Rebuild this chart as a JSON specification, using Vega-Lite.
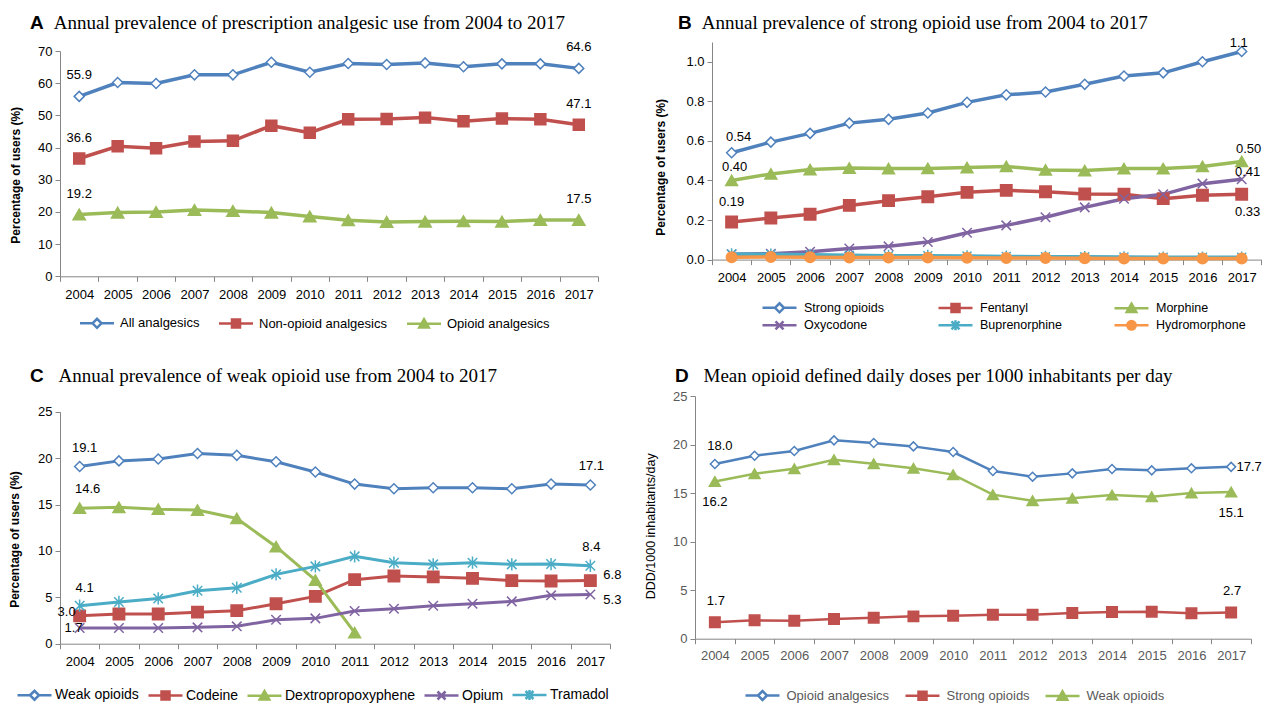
{
  "$schema": "https://vega.github.io/schema/vega-lite/v6.json",
  "background": "white",
  "padding": {"left": 8, "top": 14, "right": 0, "bottom": 0},
  "config": {
    "view": {"stroke": null},
    "font": "Liberation Sans",
    "axis": {"grid": false, "domainColor": "#868686", "tickColor": "#868686", "labelColor": "#000000", "labelFont": "Liberation Sans", "labelFontSize": 13, "tickSize": 5, "titleColor": "#000000", "titleFont": "Liberation Sans"},
    "axisX": {"labelAngle": 0, "tickBand": "extent", "labelPadding": 7},
    "axisY": {"labelPadding": 3},
    "legend": {"orient": "none", "direction": "horizontal", "padding": 0, "symbolSize": 100, "symbolStrokeWidth": 2.5, "symbolOpacity": 1, "labelFont": "Liberation Sans", "labelFontSize": 13, "labelColor": "#000000"},
    "title": {"anchor": "start", "frame": "group", "font": "Liberation Sans", "fontSize": 19, "fontWeight": "bold", "color": "#000000", "subtitleFont": "Liberation Serif", "subtitleFontSize": 19, "subtitleColor": "#000000", "subtitlePadding": -19, "baseline": "top"},
    "text": {"font": "Liberation Sans", "fontSize": 13, "color": "#000000"}
  },
  "datasets": {
    "A": [
      {"year":2004,"series":"All analgesics","value":55.9},{"year":2005,"series":"All analgesics","value":60.2},{"year":2006,"series":"All analgesics","value":59.9},{"year":2007,"series":"All analgesics","value":62.6},{"year":2008,"series":"All analgesics","value":62.6},{"year":2009,"series":"All analgesics","value":66.5},{"year":2010,"series":"All analgesics","value":63.4},{"year":2011,"series":"All analgesics","value":66.1},{"year":2012,"series":"All analgesics","value":65.8},{"year":2013,"series":"All analgesics","value":66.3},{"year":2014,"series":"All analgesics","value":65.1},{"year":2015,"series":"All analgesics","value":66.0},{"year":2016,"series":"All analgesics","value":66.0},{"year":2017,"series":"All analgesics","value":64.6},
      {"year":2004,"series":"Non-opioid analgesics","value":36.6},{"year":2005,"series":"Non-opioid analgesics","value":40.4},{"year":2006,"series":"Non-opioid analgesics","value":39.8},{"year":2007,"series":"Non-opioid analgesics","value":41.9},{"year":2008,"series":"Non-opioid analgesics","value":42.1},{"year":2009,"series":"Non-opioid analgesics","value":46.8},{"year":2010,"series":"Non-opioid analgesics","value":44.6},{"year":2011,"series":"Non-opioid analgesics","value":48.8},{"year":2012,"series":"Non-opioid analgesics","value":48.9},{"year":2013,"series":"Non-opioid analgesics","value":49.3},{"year":2014,"series":"Non-opioid analgesics","value":48.2},{"year":2015,"series":"Non-opioid analgesics","value":49.0},{"year":2016,"series":"Non-opioid analgesics","value":48.8},{"year":2017,"series":"Non-opioid analgesics","value":47.1},
      {"year":2004,"series":"Opioid analgesics","value":19.2},{"year":2005,"series":"Opioid analgesics","value":19.8},{"year":2006,"series":"Opioid analgesics","value":20.0},{"year":2007,"series":"Opioid analgesics","value":20.6},{"year":2008,"series":"Opioid analgesics","value":20.3},{"year":2009,"series":"Opioid analgesics","value":19.8},{"year":2010,"series":"Opioid analgesics","value":18.6},{"year":2011,"series":"Opioid analgesics","value":17.4},{"year":2012,"series":"Opioid analgesics","value":16.9},{"year":2013,"series":"Opioid analgesics","value":17.0},{"year":2014,"series":"Opioid analgesics","value":17.1},{"year":2015,"series":"Opioid analgesics","value":17.0},{"year":2016,"series":"Opioid analgesics","value":17.5},{"year":2017,"series":"Opioid analgesics","value":17.5}
    ],
    "B": [
      {"year":2004,"series":"Strong opioids","value":0.54},{"year":2005,"series":"Strong opioids","value":0.594},{"year":2006,"series":"Strong opioids","value":0.638},{"year":2007,"series":"Strong opioids","value":0.69},{"year":2008,"series":"Strong opioids","value":0.709},{"year":2009,"series":"Strong opioids","value":0.741},{"year":2010,"series":"Strong opioids","value":0.795},{"year":2011,"series":"Strong opioids","value":0.833},{"year":2012,"series":"Strong opioids","value":0.847},{"year":2013,"series":"Strong opioids","value":0.886},{"year":2014,"series":"Strong opioids","value":0.928},{"year":2015,"series":"Strong opioids","value":0.944},{"year":2016,"series":"Strong opioids","value":1.0},{"year":2017,"series":"Strong opioids","value":1.052},
      {"year":2004,"series":"Fentanyl","value":0.19},{"year":2005,"series":"Fentanyl","value":0.21},{"year":2006,"series":"Fentanyl","value":0.229},{"year":2007,"series":"Fentanyl","value":0.274},{"year":2008,"series":"Fentanyl","value":0.298},{"year":2009,"series":"Fentanyl","value":0.318},{"year":2010,"series":"Fentanyl","value":0.34},{"year":2011,"series":"Fentanyl","value":0.35},{"year":2012,"series":"Fentanyl","value":0.343},{"year":2013,"series":"Fentanyl","value":0.332},{"year":2014,"series":"Fentanyl","value":0.33},{"year":2015,"series":"Fentanyl","value":0.308},{"year":2016,"series":"Fentanyl","value":0.325},{"year":2017,"series":"Fentanyl","value":0.33},
      {"year":2004,"series":"Morphine","value":0.40},{"year":2005,"series":"Morphine","value":0.433},{"year":2006,"series":"Morphine","value":0.455},{"year":2007,"series":"Morphine","value":0.463},{"year":2008,"series":"Morphine","value":0.46},{"year":2009,"series":"Morphine","value":0.461},{"year":2010,"series":"Morphine","value":0.465},{"year":2011,"series":"Morphine","value":0.471},{"year":2012,"series":"Morphine","value":0.453},{"year":2013,"series":"Morphine","value":0.45},{"year":2014,"series":"Morphine","value":0.46},{"year":2015,"series":"Morphine","value":0.46},{"year":2016,"series":"Morphine","value":0.471},{"year":2017,"series":"Morphine","value":0.496},
      {"year":2004,"series":"Oxycodone","value":0.027},{"year":2005,"series":"Oxycodone","value":0.03},{"year":2006,"series":"Oxycodone","value":0.04},{"year":2007,"series":"Oxycodone","value":0.056},{"year":2008,"series":"Oxycodone","value":0.067},{"year":2009,"series":"Oxycodone","value":0.089},{"year":2010,"series":"Oxycodone","value":0.136},{"year":2011,"series":"Oxycodone","value":0.173},{"year":2012,"series":"Oxycodone","value":0.214},{"year":2013,"series":"Oxycodone","value":0.264},{"year":2014,"series":"Oxycodone","value":0.308},{"year":2015,"series":"Oxycodone","value":0.33},{"year":2016,"series":"Oxycodone","value":0.384},{"year":2017,"series":"Oxycodone","value":0.406},
      {"year":2004,"series":"Buprenorphine","value":0.028},{"year":2005,"series":"Buprenorphine","value":0.027},{"year":2006,"series":"Buprenorphine","value":0.025},{"year":2007,"series":"Buprenorphine","value":0.022},{"year":2008,"series":"Buprenorphine","value":0.02},{"year":2009,"series":"Buprenorphine","value":0.02},{"year":2010,"series":"Buprenorphine","value":0.018},{"year":2011,"series":"Buprenorphine","value":0.016},{"year":2012,"series":"Buprenorphine","value":0.015},{"year":2013,"series":"Buprenorphine","value":0.014},{"year":2014,"series":"Buprenorphine","value":0.013},{"year":2015,"series":"Buprenorphine","value":0.012},{"year":2016,"series":"Buprenorphine","value":0.012},{"year":2017,"series":"Buprenorphine","value":0.012},
      {"year":2004,"series":"Hydromorphone","value":0.012},{"year":2005,"series":"Hydromorphone","value":0.013},{"year":2006,"series":"Hydromorphone","value":0.012},{"year":2007,"series":"Hydromorphone","value":0.011},{"year":2008,"series":"Hydromorphone","value":0.01},{"year":2009,"series":"Hydromorphone","value":0.01},{"year":2010,"series":"Hydromorphone","value":0.009},{"year":2011,"series":"Hydromorphone","value":0.008},{"year":2012,"series":"Hydromorphone","value":0.008},{"year":2013,"series":"Hydromorphone","value":0.007},{"year":2014,"series":"Hydromorphone","value":0.006},{"year":2015,"series":"Hydromorphone","value":0.006},{"year":2016,"series":"Hydromorphone","value":0.005},{"year":2017,"series":"Hydromorphone","value":0.005}
    ],
    "C": [
      {"year":2004,"series":"Weak opioids","value":19.1},{"year":2005,"series":"Weak opioids","value":19.7},{"year":2006,"series":"Weak opioids","value":19.9},{"year":2007,"series":"Weak opioids","value":20.5},{"year":2008,"series":"Weak opioids","value":20.3},{"year":2009,"series":"Weak opioids","value":19.6},{"year":2010,"series":"Weak opioids","value":18.5},{"year":2011,"series":"Weak opioids","value":17.2},{"year":2012,"series":"Weak opioids","value":16.7},{"year":2013,"series":"Weak opioids","value":16.8},{"year":2014,"series":"Weak opioids","value":16.8},{"year":2015,"series":"Weak opioids","value":16.7},{"year":2016,"series":"Weak opioids","value":17.2},{"year":2017,"series":"Weak opioids","value":17.1},
      {"year":2004,"series":"Codeine","value":3.0},{"year":2005,"series":"Codeine","value":3.2},{"year":2006,"series":"Codeine","value":3.2},{"year":2007,"series":"Codeine","value":3.4},{"year":2008,"series":"Codeine","value":3.56},{"year":2009,"series":"Codeine","value":4.3},{"year":2010,"series":"Codeine","value":5.1},{"year":2011,"series":"Codeine","value":6.9},{"year":2012,"series":"Codeine","value":7.3},{"year":2013,"series":"Codeine","value":7.2},{"year":2014,"series":"Codeine","value":7.04},{"year":2015,"series":"Codeine","value":6.8},{"year":2016,"series":"Codeine","value":6.75},{"year":2017,"series":"Codeine","value":6.8},
      {"year":2004,"series":"Dextropropoxyphene","value":14.6},{"year":2005,"series":"Dextropropoxyphene","value":14.7},{"year":2006,"series":"Dextropropoxyphene","value":14.5},{"year":2007,"series":"Dextropropoxyphene","value":14.4},{"year":2008,"series":"Dextropropoxyphene","value":13.5},{"year":2009,"series":"Dextropropoxyphene","value":10.45},{"year":2010,"series":"Dextropropoxyphene","value":6.86},{"year":2011,"series":"Dextropropoxyphene","value":1.19},
      {"year":2004,"series":"Opium","value":1.7},{"year":2005,"series":"Opium","value":1.7},{"year":2006,"series":"Opium","value":1.7},{"year":2007,"series":"Opium","value":1.76},{"year":2008,"series":"Opium","value":1.87},{"year":2009,"series":"Opium","value":2.59},{"year":2010,"series":"Opium","value":2.73},{"year":2011,"series":"Opium","value":3.52},{"year":2012,"series":"Opium","value":3.77},{"year":2013,"series":"Opium","value":4.09},{"year":2014,"series":"Opium","value":4.31},{"year":2015,"series":"Opium","value":4.56},{"year":2016,"series":"Opium","value":5.21},{"year":2017,"series":"Opium","value":5.3},
      {"year":2004,"series":"Tramadol","value":4.1},{"year":2005,"series":"Tramadol","value":4.49},{"year":2006,"series":"Tramadol","value":4.88},{"year":2007,"series":"Tramadol","value":5.71},{"year":2008,"series":"Tramadol","value":6.03},{"year":2009,"series":"Tramadol","value":7.47},{"year":2010,"series":"Tramadol","value":8.33},{"year":2011,"series":"Tramadol","value":9.41},{"year":2012,"series":"Tramadol","value":8.73},{"year":2013,"series":"Tramadol","value":8.55},{"year":2014,"series":"Tramadol","value":8.73},{"year":2015,"series":"Tramadol","value":8.55},{"year":2016,"series":"Tramadol","value":8.58},{"year":2017,"series":"Tramadol","value":8.4}
    ],
    "D": [
      {"year":2004,"series":"Opioid analgesics","value":18.0},{"year":2005,"series":"Opioid analgesics","value":18.85},{"year":2006,"series":"Opioid analgesics","value":19.33},{"year":2007,"series":"Opioid analgesics","value":20.43},{"year":2008,"series":"Opioid analgesics","value":20.16},{"year":2009,"series":"Opioid analgesics","value":19.81},{"year":2010,"series":"Opioid analgesics","value":19.23},{"year":2011,"series":"Opioid analgesics","value":17.27},{"year":2012,"series":"Opioid analgesics","value":16.69},{"year":2013,"series":"Opioid analgesics","value":17.03},{"year":2014,"series":"Opioid analgesics","value":17.48},{"year":2015,"series":"Opioid analgesics","value":17.34},{"year":2016,"series":"Opioid analgesics","value":17.55},{"year":2017,"series":"Opioid analgesics","value":17.7},
      {"year":2004,"series":"Strong opioids","value":1.7},{"year":2005,"series":"Strong opioids","value":1.89},{"year":2006,"series":"Strong opioids","value":1.85},{"year":2007,"series":"Strong opioids","value":2.03},{"year":2008,"series":"Strong opioids","value":2.16},{"year":2009,"series":"Strong opioids","value":2.3},{"year":2010,"series":"Strong opioids","value":2.37},{"year":2011,"series":"Strong opioids","value":2.47},{"year":2012,"series":"Strong opioids","value":2.47},{"year":2013,"series":"Strong opioids","value":2.64},{"year":2014,"series":"Strong opioids","value":2.75},{"year":2015,"series":"Strong opioids","value":2.78},{"year":2016,"series":"Strong opioids","value":2.61},{"year":2017,"series":"Strong opioids","value":2.7},
      {"year":2004,"series":"Weak opioids","value":16.2},{"year":2005,"series":"Weak opioids","value":17.0},{"year":2006,"series":"Weak opioids","value":17.5},{"year":2007,"series":"Weak opioids","value":18.44},{"year":2008,"series":"Weak opioids","value":18.03},{"year":2009,"series":"Weak opioids","value":17.55},{"year":2010,"series":"Weak opioids","value":16.9},{"year":2011,"series":"Weak opioids","value":14.84},{"year":2012,"series":"Weak opioids","value":14.22},{"year":2013,"series":"Weak opioids","value":14.46},{"year":2014,"series":"Weak opioids","value":14.8},{"year":2015,"series":"Weak opioids","value":14.63},{"year":2016,"series":"Weak opioids","value":15.0},{"year":2017,"series":"Weak opioids","value":15.1}
    ]
  },
  "spacing": 31,
  "resolve": {"scale": {"stroke": "independent", "fill": "independent", "shape": "independent"}, "legend": {"stroke": "independent", "fill": "independent", "shape": "independent"}},
  "vconcat": [
    {
      "spacing": 54,
      "resolve": {"scale": {"stroke": "independent", "fill": "independent", "shape": "independent"}, "legend": {"stroke": "independent", "fill": "independent", "shape": "independent"}},
      "hconcat": [
        {
          "width": 538, "height": 234.3,
          "data": {"name": "A"},
          "title": {"text": "A", "subtitle": "\u200b\u00a0\u00a0\u00a0\u00a0\u00a0Annual prevalence of prescription analgesic use from 2004 to 2017", "dx": -30, "offset": 8},
          "encoding": {
            "x": {"field": "year", "type": "ordinal", "bandPosition": 0.5, "title": null, "scale": {"type": "band", "paddingInner": 0, "paddingOuter": 0}},
            "y": {"field": "value", "type": "quantitative", "scale": {"domain": [0, 70], "range": [234.3, 9], "nice": false}, "axis": {"values": [0, 10, 20, 30, 40, 50, 60, 70], "title": "Percentage of users (%)", "titleX": -38, "titleY": 132.8, "titleFontWeight": "bold", "titleFontSize": 12}}
          },
          "layer": [
            {"mark": {"type": "line", "strokeWidth": 3.5},
             "encoding": {
               "detail": {"field": "series", "type": "nominal"},
               "stroke": {"condition": [{"test": "datum.series === 'Non-opioid analgesics'", "value": "#C0504D"}, {"test": "datum.series === 'Opioid analgesics'", "value": "#9BBB59"}], "value": "#4F81BD"}
             }},
            {"mark": {"type": "point", "filled": true, "opacity": 1, "strokeWidth": 1.5},
             "encoding": {
               "stroke": {"condition": [{"test": "datum.series === 'Non-opioid analgesics'", "value": "#C0504D"}, {"test": "datum.series === 'Opioid analgesics'", "value": "#9BBB59"}], "value": "#4F81BD"},
               "fill": {"condition": [{"test": "datum.series === 'Non-opioid analgesics'", "value": "#C0504D"}, {"test": "datum.series === 'Opioid analgesics'", "value": "#9BBB59"}], "value": "#FFFFFF"},
               "shape": {"condition": [{"test": "datum.series === 'Non-opioid analgesics'", "value": "square"}, {"test": "datum.series === 'Opioid analgesics'", "value": "triangle-up"}], "value": "diamond"},
               "size": {"condition": [{"test": "datum.series === 'Non-opioid analgesics'", "value": 120}, {"test": "datum.series === 'Opioid analgesics'", "value": 150}], "value": 100}
             }},
            {"transform": [{"filter": "datum.year > 3000"}],
             "mark": {"type": "point", "filled": true, "opacity": 1, "strokeWidth": 2.5},
             "encoding": {
               "stroke": {"field": "series", "type": "nominal", "scale": {"domain": ["All analgesics", "Non-opioid analgesics", "Opioid analgesics"], "range": ["#4F81BD", "#C0504D", "#9BBB59"]}, "legend": {"title": null, "legendX": 30.5, "legendY": 274.8, "labelOffset": 16.5, "columnPadding": 14}},
               "fill": {"field": "series", "type": "nominal", "scale": {"domain": ["All analgesics", "Non-opioid analgesics", "Opioid analgesics"], "range": ["#FFFFFF", "#C0504D", "#9BBB59"]}, "legend": {"title": null, "legendX": 30.5, "legendY": 274.8, "labelOffset": 16.5, "columnPadding": 14}},
               "shape": {"field": "series", "type": "nominal", "scale": {"domain": ["All analgesics", "Non-opioid analgesics", "Opioid analgesics"], "range": ["M-3.4,0L-0.9,0M0.9,0L3.4,0M-0.9,0L0,-0.9L0.9,0L0,0.9Z", "M-3.4,0L3.4,0M-0.8,-0.8L0.8,-0.8L0.8,0.8L-0.8,0.8Z", "M-3.4,0L3.4,0M0,-0.9L0.95,0.75L-0.95,0.75Z"]}, "legend": {"title": null, "legendX": 30.5, "legendY": 274.8, "labelOffset": 16.5, "columnPadding": 14}}
             }},
            {"transform": [{"filter": "datum.year == 2004 || datum.year == 2017"}], "mark": {"type": "text", "dy": -21}, "encoding": {"text": {"field": "value", "type": "quantitative", "format": ".1f"}}}
          ]
        },
        {
          "width": 549.3, "height": 217.6,
          "data": {"name": "B"},
          "title": {"text": "B", "subtitle": "\u200b\u00a0\u00a0\u00a0\u00a0\u00a0Annual prevalence of strong opioid use from 2004 to 2017", "dx": -34, "offset": 4},
          "encoding": {
            "x": {"field": "year", "type": "ordinal", "bandPosition": 0.5, "title": null, "scale": {"type": "band", "paddingInner": 0, "paddingOuter": 0}},
            "y": {"field": "value", "type": "quantitative", "scale": {"domain": [0, 1.1], "nice": false}, "axis": {"values": [0, 0.2, 0.4, 0.6, 0.8, 1.0], "format": ".1f", "title": "Percentage of users (%)", "titleX": -45, "titleY": 124.8, "titleFontWeight": "bold", "titleFontSize": 12}}
          },
          "layer": [
            {"mark": {"type": "line", "strokeWidth": 3.5},
             "encoding": {
               "detail": {"field": "series", "type": "nominal"},
               "stroke": {"condition": [{"test": "datum.series === 'Fentanyl'", "value": "#C0504D"}, {"test": "datum.series === 'Morphine'", "value": "#9BBB59"}, {"test": "datum.series === 'Oxycodone'", "value": "#8064A2"}, {"test": "datum.series === 'Buprenorphine'", "value": "#4BACC6"}, {"test": "datum.series === 'Hydromorphone'", "value": "#F79646"}], "value": "#4F81BD"}
             }},
            {"mark": {"type": "point", "filled": true, "opacity": 1, "strokeWidth": 1.5},
             "encoding": {
               "stroke": {"condition": [{"test": "datum.series === 'Fentanyl'", "value": "#C0504D"}, {"test": "datum.series === 'Morphine'", "value": "#9BBB59"}, {"test": "datum.series === 'Oxycodone'", "value": "#8064A2"}, {"test": "datum.series === 'Buprenorphine'", "value": "#4BACC6"}, {"test": "datum.series === 'Hydromorphone'", "value": "#F79646"}], "value": "#4F81BD"},
               "fill": {"condition": [{"test": "datum.series === 'Fentanyl'", "value": "#C0504D"}, {"test": "datum.series === 'Morphine'", "value": "#9BBB59"}, {"test": "datum.series === 'Oxycodone'", "value": "transparent"}, {"test": "datum.series === 'Buprenorphine'", "value": "transparent"}, {"test": "datum.series === 'Hydromorphone'", "value": "#F79646"}], "value": "#FFFFFF"},
               "shape": {"condition": [{"test": "datum.series === 'Fentanyl'", "value": "square"}, {"test": "datum.series === 'Morphine'", "value": "triangle-up"}, {"test": "datum.series === 'Oxycodone'", "value": "M-1,-1L1,1M-1,1L1,-1"}, {"test": "datum.series === 'Buprenorphine'", "value": "M-1,-1L1,1M-1,1L1,-1M0,-1.3L0,1.3"}, {"test": "datum.series === 'Hydromorphone'", "value": "circle"}], "value": "diamond"},
               "size": {"condition": [{"test": "datum.series === 'Fentanyl'", "value": 130}, {"test": "datum.series === 'Morphine'", "value": 140}, {"test": "datum.series === 'Oxycodone'", "value": 90}, {"test": "datum.series === 'Buprenorphine'", "value": 80}, {"test": "datum.series === 'Hydromorphone'", "value": 110}], "value": 100}
             }},
            {"transform": [{"filter": "datum.year > 3000"}],
             "mark": {"type": "point", "filled": true, "opacity": 1, "strokeWidth": 2.5},
             "encoding": {
               "stroke": {"field": "series", "type": "nominal", "scale": {"domain": ["Strong opioids", "Fentanyl", "Morphine", "Oxycodone", "Buprenorphine", "Hydromorphone"], "range": ["#4F81BD", "#C0504D", "#9BBB59", "#8064A2", "#4BACC6", "#F79646"]}, "legend": {"title": null, "legendX": 61, "legendY": 258.8, "columns": 3, "gridAlign": "all", "labelOffset": 18, "columnPadding": 39, "rowPadding": -3, "labelFontSize": 12.5}},
               "fill": {"field": "series", "type": "nominal", "scale": {"domain": ["Strong opioids", "Fentanyl", "Morphine", "Oxycodone", "Buprenorphine", "Hydromorphone"], "range": ["#FFFFFF", "#C0504D", "#9BBB59", "transparent", "transparent", "#F79646"]}, "legend": {"title": null, "legendX": 61, "legendY": 258.8, "columns": 3, "gridAlign": "all", "labelOffset": 18, "columnPadding": 39, "rowPadding": -3, "labelFontSize": 12.5}},
               "shape": {"field": "series", "type": "nominal", "scale": {"domain": ["Strong opioids", "Fentanyl", "Morphine", "Oxycodone", "Buprenorphine", "Hydromorphone"], "range": ["M-3.4,0L-0.9,0M0.9,0L3.4,0M-0.9,0L0,-0.9L0.9,0L0,0.9Z", "M-3.4,0L3.4,0M-0.8,-0.8L0.8,-0.8L0.8,0.8L-0.8,0.8Z", "M-3.4,0L3.4,0M0,-0.9L0.95,0.75L-0.95,0.75Z", "M-3.4,0L3.4,0M-0.8,-0.8L0.8,0.8M-0.8,0.8L0.8,-0.8", "M-3.4,0L3.4,0M-0.8,-0.8L0.8,0.8M-0.8,0.8L0.8,-0.8M0,-1L0,1", "M-3.4,0L3.4,0M-0.85,0A0.85,0.85,0,1,0,0.85,0A0.85,0.85,0,1,0,-0.85,0Z"]}, "legend": {"title": null, "legendX": 61, "legendY": 258.8, "columns": 3, "gridAlign": "all", "labelOffset": 18, "columnPadding": 39, "rowPadding": -3, "labelFontSize": 12.5}}
             }},
            {"encoding": {"text": {"field": "value", "type": "quantitative", "format": ".2f"}},
             "layer": [
               {"transform": [{"filter": "datum.year == 2004 && datum.series == 'Strong opioids'"}], "mark": {"type": "text", "dx": 7, "dy": -16}},
               {"transform": [{"filter": "datum.year == 2004 && datum.series == 'Morphine'"}], "mark": {"type": "text", "dx": 3, "dy": -13}},
               {"transform": [{"filter": "datum.year == 2004 && datum.series == 'Fentanyl'"}], "mark": {"type": "text", "dx": 0, "dy": -20}},
               {"transform": [{"filter": "datum.year == 2017 && datum.series == 'Strong opioids'"}], "mark": {"type": "text", "dx": -3, "dy": -8}, "encoding": {"text": {"field": "value", "type": "quantitative", "format": ".1f"}}},
               {"transform": [{"filter": "datum.year == 2017 && datum.series == 'Morphine'"}], "mark": {"type": "text", "dx": 7, "dy": -12}},
               {"transform": [{"filter": "datum.year == 2017 && datum.series == 'Oxycodone'"}], "mark": {"type": "text", "dx": 6, "dy": -7}},
               {"transform": [{"filter": "datum.year == 2017 && datum.series == 'Fentanyl'"}], "mark": {"type": "text", "dx": 6, "dy": 18}}
             ]}
          ]
        }
      ]
    },
    {
      "spacing": 22,
      "resolve": {"scale": {"stroke": "independent", "fill": "independent", "shape": "independent"}, "legend": {"stroke": "independent", "fill": "independent", "shape": "independent"}},
      "hconcat": [
        {
          "width": 550, "height": 247.7,
          "data": {"name": "C"},
          "title": {"text": "C", "subtitle": "\u200b\u00a0\u00a0\u00a0\u00a0\u00a0\u00a0Annual prevalence of weak opioid use from 2004 to 2017", "dx": -30, "offset": 10},
          "encoding": {
            "x": {"field": "year", "type": "ordinal", "bandPosition": 0.5, "title": null, "scale": {"type": "band", "paddingInner": 0, "paddingOuter": 0}},
            "y": {"field": "value", "type": "quantitative", "scale": {"domain": [0, 25], "range": [247.7, 15.7], "nice": false}, "axis": {"values": [0, 5, 10, 15, 20, 25], "title": "Percentage of users (%)", "titleX": -39, "titleY": 143, "titleFontWeight": "bold", "titleFontSize": 12}}
          },
          "layer": [
            {"mark": {"type": "line", "strokeWidth": 3},
             "encoding": {
               "detail": {"field": "series", "type": "nominal"},
               "stroke": {"condition": [{"test": "datum.series === 'Codeine'", "value": "#C0504D"}, {"test": "datum.series === 'Dextropropoxyphene'", "value": "#9BBB59"}, {"test": "datum.series === 'Opium'", "value": "#8064A2"}, {"test": "datum.series === 'Tramadol'", "value": "#4BACC6"}], "value": "#4F81BD"}
             }},
            {"mark": {"type": "point", "filled": true, "opacity": 1, "strokeWidth": 1.5},
             "encoding": {
               "stroke": {"condition": [{"test": "datum.series === 'Codeine'", "value": "#C0504D"}, {"test": "datum.series === 'Dextropropoxyphene'", "value": "#9BBB59"}, {"test": "datum.series === 'Opium'", "value": "#8064A2"}, {"test": "datum.series === 'Tramadol'", "value": "#4BACC6"}], "value": "#4F81BD"},
               "fill": {"condition": [{"test": "datum.series === 'Codeine'", "value": "#C0504D"}, {"test": "datum.series === 'Dextropropoxyphene'", "value": "#9BBB59"}, {"test": "datum.series === 'Opium'", "value": "transparent"}, {"test": "datum.series === 'Tramadol'", "value": "transparent"}], "value": "#FFFFFF"},
               "shape": {"condition": [{"test": "datum.series === 'Codeine'", "value": "square"}, {"test": "datum.series === 'Dextropropoxyphene'", "value": "triangle-up"}, {"test": "datum.series === 'Opium'", "value": "M-1,-1L1,1M-1,1L1,-1"}, {"test": "datum.series === 'Tramadol'", "value": "M-1,-1L1,1M-1,1L1,-1M0,-1.3L0,1.3"}], "value": "diamond"},
               "size": {"condition": [{"test": "datum.series === 'Codeine'", "value": 130}, {"test": "datum.series === 'Dextropropoxyphene'", "value": 140}, {"test": "datum.series === 'Opium'", "value": 90}, {"test": "datum.series === 'Tramadol'", "value": 90}], "value": 100}
             }},
            {"transform": [{"filter": "datum.year > 3000"}],
             "mark": {"type": "point", "filled": true, "opacity": 1, "strokeWidth": 2.5},
             "encoding": {
               "stroke": {"field": "series", "type": "nominal", "scale": {"domain": ["Weak opioids", "Codeine", "Dextropropoxyphene", "Opium", "Tramadol"], "range": ["#4F81BD", "#C0504D", "#9BBB59", "#8064A2", "#4BACC6"]}, "legend": {"title": null, "legendX": -32.5, "legendY": 292, "labelOffset": 13.5, "columnPadding": 4, "labelFontSize": 14}},
               "fill": {"field": "series", "type": "nominal", "scale": {"domain": ["Weak opioids", "Codeine", "Dextropropoxyphene", "Opium", "Tramadol"], "range": ["#FFFFFF", "#C0504D", "#9BBB59", "transparent", "transparent"]}, "legend": {"title": null, "legendX": -32.5, "legendY": 292, "labelOffset": 13.5, "columnPadding": 4, "labelFontSize": 14}},
               "shape": {"field": "series", "type": "nominal", "scale": {"domain": ["Weak opioids", "Codeine", "Dextropropoxyphene", "Opium", "Tramadol"], "range": ["M-3.4,0L-0.9,0M0.9,0L3.4,0M-0.9,0L0,-0.9L0.9,0L0,0.9Z", "M-3.4,0L3.4,0M-0.8,-0.8L0.8,-0.8L0.8,0.8L-0.8,0.8Z", "M-3.4,0L3.4,0M0,-0.9L0.95,0.75L-0.95,0.75Z", "M-3.4,0L3.4,0M-0.8,-0.8L0.8,0.8M-0.8,0.8L0.8,-0.8", "M-3.4,0L3.4,0M-0.8,-0.8L0.8,0.8M-0.8,0.8L0.8,-0.8M0,-1L0,1"]}, "legend": {"title": null, "legendX": -32.5, "legendY": 292, "labelOffset": 13.5, "columnPadding": 4, "labelFontSize": 14}}
             }},
            {"encoding": {"text": {"field": "value", "type": "quantitative", "format": ".1f"}},
             "layer": [
               {"transform": [{"filter": "datum.year == 2004 && (datum.series == 'Weak opioids' || datum.series == 'Tramadol')"}], "mark": {"type": "text", "dx": 5, "dy": -18}},
               {"transform": [{"filter": "datum.year == 2004 && datum.series == 'Dextropropoxyphene'"}], "mark": {"type": "text", "dx": 8, "dy": -19}},
               {"transform": [{"filter": "datum.year == 2004 && datum.series == 'Codeine'"}], "mark": {"type": "text", "dx": -13, "dy": -4}},
               {"transform": [{"filter": "datum.year == 2004 && datum.series == 'Opium'"}], "mark": {"type": "text", "dx": -6, "dy": 0}},
               {"transform": [{"filter": "datum.year == 2017 && (datum.series == 'Weak opioids' || datum.series == 'Tramadol')"}], "mark": {"type": "text", "dx": 1, "dy": -19}},
               {"transform": [{"filter": "datum.year == 2017 && datum.series == 'Codeine'"}], "mark": {"type": "text", "dx": 22, "dy": -6}},
               {"transform": [{"filter": "datum.year == 2017 && datum.series == 'Opium'"}], "mark": {"type": "text", "dx": 22, "dy": 5}}
             ]}
          ]
        },
        {
          "width": 556, "height": 242.7,
          "data": {"name": "D"},
          "title": {"text": "D", "subtitle": "\u200b\u00a0\u00a0\u00a0\u00a0\u00a0\u00a0Mean opioid defined daily doses per 1000 inhabitants per day", "dx": -20, "offset": 4},
          "encoding": {
            "x": {"field": "year", "type": "ordinal", "bandPosition": 0.5, "title": null, "scale": {"type": "band", "paddingInner": 0, "paddingOuter": 0}, "axis": {"labelColor": "#595959", "labelPadding": 6}},
            "y": {"field": "value", "type": "quantitative", "scale": {"domain": [0, 25], "nice": false}, "axis": {"values": [0, 5, 10, 15, 20, 25], "labelColor": "#595959", "title": "DDD/1000 inhabitants/day", "titleX": -38, "titleY": 129.8, "titleFontWeight": "normal", "titleFontSize": 12.5}}
          },
          "layer": [
            {"mark": {"type": "line", "strokeWidth": 2.5},
             "encoding": {
               "detail": {"field": "series", "type": "nominal"},
               "stroke": {"condition": [{"test": "datum.series === 'Strong opioids'", "value": "#C0504D"}, {"test": "datum.series === 'Weak opioids'", "value": "#9BBB59"}], "value": "#4F81BD"}
             }},
            {"mark": {"type": "point", "filled": true, "opacity": 1, "strokeWidth": 1.5},
             "encoding": {
               "stroke": {"condition": [{"test": "datum.series === 'Strong opioids'", "value": "#C0504D"}, {"test": "datum.series === 'Weak opioids'", "value": "#9BBB59"}], "value": "#4F81BD"},
               "fill": {"condition": [{"test": "datum.series === 'Strong opioids'", "value": "#C0504D"}, {"test": "datum.series === 'Weak opioids'", "value": "#9BBB59"}], "value": "#FFFFFF"},
               "shape": {"condition": [{"test": "datum.series === 'Strong opioids'", "value": "square"}, {"test": "datum.series === 'Weak opioids'", "value": "triangle-up"}], "value": "diamond"},
               "size": {"condition": [{"test": "datum.series === 'Strong opioids'", "value": 110}, {"test": "datum.series === 'Weak opioids'", "value": 120}], "value": 80}
             }},
            {"transform": [{"filter": "datum.year > 3000"}],
             "mark": {"type": "point", "filled": true, "opacity": 1, "strokeWidth": 2.5},
             "encoding": {
               "stroke": {"field": "series", "type": "nominal", "scale": {"domain": ["Opioid analgesics", "Strong opioids", "Weak opioids"], "range": ["#4F81BD", "#C0504D", "#9BBB59"]}, "legend": {"title": null, "legendX": 61, "legendY": 293, "labelOffset": 17.5, "columnPadding": 10, "labelColor": "#595959"}},
               "fill": {"field": "series", "type": "nominal", "scale": {"domain": ["Opioid analgesics", "Strong opioids", "Weak opioids"], "range": ["#FFFFFF", "#C0504D", "#9BBB59"]}, "legend": {"title": null, "legendX": 61, "legendY": 293, "labelOffset": 17.5, "columnPadding": 10, "labelColor": "#595959"}},
               "shape": {"field": "series", "type": "nominal", "scale": {"domain": ["Opioid analgesics", "Strong opioids", "Weak opioids"], "range": ["M-3.4,0L-0.9,0M0.9,0L3.4,0M-0.9,0L0,-0.9L0.9,0L0,0.9Z", "M-3.4,0L3.4,0M-0.8,-0.8L0.8,-0.8L0.8,0.8L-0.8,0.8Z", "M-3.4,0L3.4,0M0,-0.9L0.95,0.75L-0.95,0.75Z"]}, "legend": {"title": null, "legendX": 61, "legendY": 293, "labelOffset": 17.5, "columnPadding": 10, "labelColor": "#595959"}}
             }},
            {"encoding": {"text": {"field": "value", "type": "quantitative", "format": ".1f"}},
             "layer": [
               {"transform": [{"filter": "datum.year == 2004 && datum.series == 'Opioid analgesics'"}], "mark": {"type": "text", "dx": 5, "dy": -18}},
               {"transform": [{"filter": "datum.series == 'Strong opioids' && (datum.year == 2004 || datum.year == 2017)"}], "mark": {"type": "text", "dx": 1, "dy": -21}},
               {"transform": [{"filter": "datum.series == 'Weak opioids' && (datum.year == 2004 || datum.year == 2017)"}], "mark": {"type": "text", "dx": 0, "dy": 21}},
               {"transform": [{"filter": "datum.year == 2017 && datum.series == 'Opioid analgesics'"}], "mark": {"type": "text", "dx": 18, "dy": 0}}
             ]}
          ]
        }
      ]
    }
  ]
}
